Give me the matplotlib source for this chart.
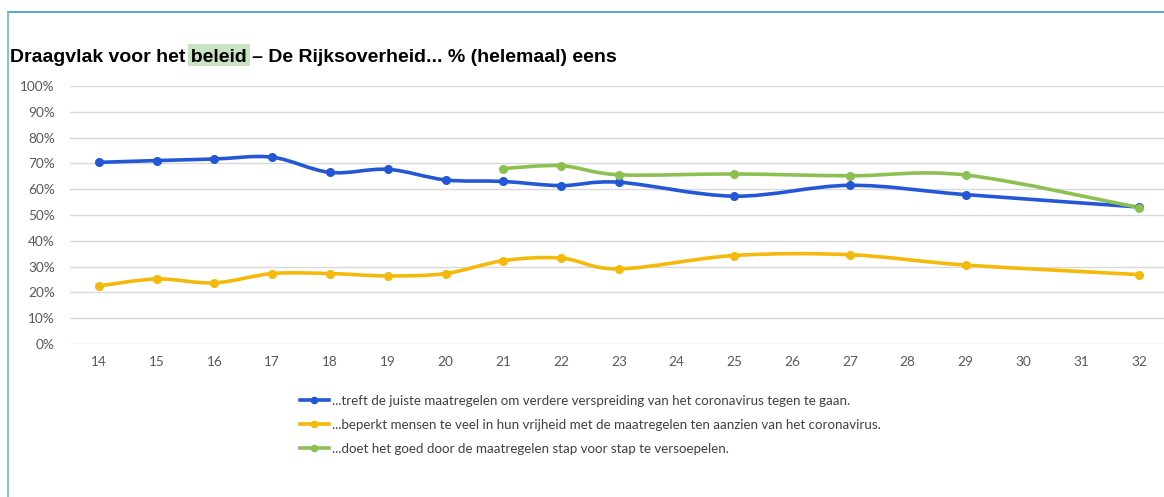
import numpy as np
import matplotlib.pyplot as plt
from matplotlib.path import Path
from matplotlib.patches import PathPatch, Rectangle
from matplotlib.lines import Line2D

# data (week numbers, % (helemaal) eens)
weeks = list(range(14, 33))
blue_weeks = [14, 15, 16, 17, 18, 19, 20, 21, 22, 23, 25, 27, 29, 32]
blue_vals = [70.4, 71.1, 71.7, 72.4, 66.5, 67.7, 63.6, 63.0, 61.4, 62.7, 57.3, 61.5, 57.9, 53.1]
yellow_weeks = [14, 15, 16, 17, 18, 19, 20, 21, 22, 23, 25, 27, 29, 32]
yellow_vals = [22.5, 25.2, 23.7, 27.3, 27.3, 26.4, 27.3, 32.3, 33.3, 29.1, 34.3, 34.6, 30.6, 26.9]
green_weeks = [21, 22, 23, 25, 27, 29, 32]
green_vals = [68.0, 69.1, 65.6, 65.9, 65.2, 65.5, 52.9]

labels = ['...treft de juiste maatregelen om verdere verspreiding van het coronavirus tegen te gaan.',
          '...beperkt mensen te veel in hun vrijheid met de maatregelen ten aanzien van het coronavirus.',
          '...doet het goed door de maatregelen stap voor stap te versoepelen.']
colors = ['#2457d6', '#f4b90a', '#8cc152']

plt.rcParams['font.family'] = ['Lato', 'DejaVu Sans']

fig = plt.figure(figsize=(11.64, 4.97), dpi=100)
ax = fig.add_axes([70 / 1164, 1 - 344 / 497, 1096 / 1164, 258 / 497])


def smooth_line(ax, xs, ys, color):
    # excel-like smoothed line through the points (bezier segments)
    pts = np.column_stack([xs, ys]).astype(float)
    verts = [pts[0]]
    codes = [Path.MOVETO]
    n = len(pts)
    for i in range(n - 1):
        p0 = pts[i - 1] if i > 0 else pts[i]
        p1 = pts[i]
        p2 = pts[i + 1]
        p3 = pts[i + 2] if i + 2 < n else pts[i + 1]
        c1 = p1 + (p2 - p0) / 6.0
        c2 = p2 - (p3 - p1) / 6.0
        verts += [c1, c2, p2]
        codes += [Path.CURVE4] * 3
    patch = PathPatch(Path(verts, codes), facecolor='none', edgecolor=color,
                      lw=2.6, capstyle='round', joinstyle='round', zorder=3)
    ax.add_patch(patch)
    ax.plot(xs, ys, 'o', color=color, ms=5.5, zorder=4)


smooth_line(ax, blue_weeks, blue_vals, colors[0])
smooth_line(ax, yellow_weeks, yellow_vals, colors[1])
smooth_line(ax, green_weeks, green_vals, colors[2])

ax.set_xlim(13.5, 32.47)
ax.set_ylim(0, 100)
ax.set_xticks(weeks)
ax.set_yticks(range(0, 101, 10))
ax.set_yticklabels([f'{v}%' for v in range(0, 101, 10)])
ax.tick_params(length=0, labelsize=9.8, labelcolor='#595959')
ax.tick_params(axis='x', pad=9)
ax.tick_params(axis='y', pad=11)
ax.grid(axis='y', color='#d9d9d9', lw=1)
ax.set_axisbelow(True)
for s in ax.spines.values():
    s.set_visible(False)

# title, with the word "beleid" highlighted
title_font = dict(family=['Liberation Sans', 'DejaVu Sans'], fontweight='bold',
                  fontsize=14, va='center', ha='left', color='black')
tx, ty = 10 / 1164, 1 - 58 / 497
title = fig.text(tx, ty, 'Draagvlak voor het beleid \u2013 De Rijksoverheid... % (helemaal) eens',
                 **title_font)
renderer = fig.canvas.get_renderer()
pre = fig.text(tx, ty, 'Draagvlak voor het ', **title_font)
word = fig.text(tx, ty, 'beleid', **title_font)
w_pre = pre.get_window_extent(renderer).width
w_word = word.get_window_extent(renderer).width
pre.remove()
word.remove()
fig.patches.append(Rectangle(((10 + w_pre - 3) / 1164, 1 - 66 / 497), (w_word + 6) / 1164, 22 / 497,
                             transform=fig.transFigure, facecolor='#c9e3c3',
                             edgecolor='none', zorder=0))

# frame lines (top and left)
fig.add_artist(Line2D([8 / 1164, 1], [1 - 12 / 497] * 2, color='#3a9ad0', lw=1.2,
                      transform=fig.transFigure))
fig.add_artist(Line2D([8 / 1164] * 2, [0, 1 - 12 / 497], color='#6fb3d8', lw=1.2,
                      transform=fig.transFigure))

handles = [Line2D([], [], color=c, lw=2.6, marker='o', ms=4.5) for c in colors]
fig.legend(handles, labels, loc='upper left', bbox_to_anchor=(293 / 1164, 1 - 388 / 497),
           frameon=False, fontsize=9.6, handlelength=2.2, handletextpad=0.2,
           labelspacing=0.9, labelcolor='#404040', borderpad=0)

fig.savefig('out.png', dpi=100)
